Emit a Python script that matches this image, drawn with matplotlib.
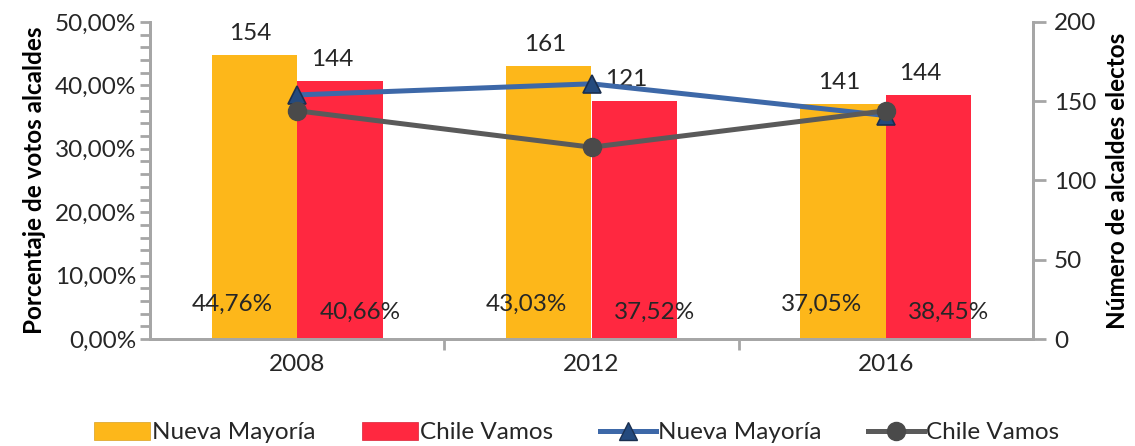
import numpy as np
import matplotlib
matplotlib.use("Agg")
import matplotlib.pyplot as plt
from matplotlib.ticker import MultipleLocator, FuncFormatter
from matplotlib.patches import Patch
from matplotlib.lines import Line2D

# datos
years = ["2008", "2012", "2016"]
pct_nm = [44.76, 43.03, 37.05]
pct_cv = [40.66, 37.52, 38.45]
alc_nm = [154, 161, 141]
alc_cv = [144, 121, 144]
top_labels_nm = ["154", "161", "141"]
top_labels_cv = ["144", "121", "144"]

c_yel = "#FDB71A"
c_red = "#FF2840"
c_blue = "#3D68A8"
c_gray = "#5A5A5A"
c_axis = "#A6A6A6"
c_txt = "#262626"
fs = 17.5

plt.rcParams["font.family"] = ["Lato", "DejaVu Sans"]

fig = plt.figure(figsize=(11.35, 4.46), dpi=100)
ax = fig.add_axes([150/1135, 1-339/446, (1033-150)/1135, (339-22)/446])
ax2 = ax.twinx()

x = np.arange(len(years))
w = 0.29
ax.bar(x - w/2, pct_nm, w, color=c_yel, zorder=2)
ax.bar(x + w/2, pct_cv, w, color=c_red, zorder=2)

ax.set_xlim(-0.5, 2.5)
ax.set_ylim(0, 50)
ax.yaxis.set_major_locator(MultipleLocator(10))
ax.yaxis.set_minor_locator(MultipleLocator(2))
ax.yaxis.set_major_formatter(FuncFormatter(lambda v, p: f"{v:.2f}%".replace(".", ",")))
ax.set_xticks(x)
ax.set_xticklabels(years)
ax.set_xticks([0.5, 1.5], minor=True)

ax.spines["top"].set_visible(False)
ax2.spines["top"].set_visible(False)
for s in ["left", "bottom", "right"]:
    for a in (ax, ax2):
        a.spines[s].set_color(c_axis)
        a.spines[s].set_linewidth(2)

ax.tick_params(axis="y", which="major", length=7, width=2, color=c_axis,
               labelsize=fs, labelcolor=c_txt, pad=3)
ax.tick_params(axis="y", which="minor", length=7, width=2, color=c_axis)
ax.tick_params(axis="x", which="major", length=0, labelsize=fs, labelcolor=c_txt, pad=11)
ax.tick_params(axis="x", which="minor", length=8, width=2, color=c_axis)

ax.set_ylabel("Porcentaje de votos alcaldes", fontsize=fs, fontweight="bold",
              color="black", labelpad=6)

# lineas (eje derecho)
ax2.plot(x, alc_nm, color=c_blue, lw=3.6, marker="^", ms=13,
         markerfacecolor="#244A7E", markeredgecolor="#1B2F4F", mew=1.2, zorder=4)
ax2.plot(x, alc_cv, color=c_gray, lw=3.6, marker="o", ms=13,
         markerfacecolor="#4A4A4A", markeredgecolor="#4A4A4A", zorder=5)
ax2.set_ylim(0, 200)
ax2.yaxis.set_major_locator(MultipleLocator(50))
ax2.tick_params(axis="y", length=9, width=2, color=c_axis, labelsize=fs,
                labelcolor=c_txt, pad=6)
ax2.set_ylabel("Número de alcaldes electos", fontsize=fs, fontweight="bold",
               color="black", labelpad=7)

# etiquetas
for i in range(len(years)):
    ax.annotate(top_labels_nm[i], (x[i] - w/2, pct_nm[i]), xytext=(-4, 22),
                textcoords="offset pixels", ha="center", va="center",
                fontsize=fs, color=c_txt)
    ax.annotate(top_labels_cv[i], (x[i] + w/2, pct_cv[i]), xytext=(-8, 22),
                textcoords="offset pixels", ha="center", va="center",
                fontsize=fs, color=c_txt)
    ax.annotate(f"{pct_nm[i]:.2f}%".replace(".", ","), (x[i] - w/2, 0),
                xytext=(-22, 35), textcoords="offset pixels", ha="center",
                va="center", fontsize=fs, color=c_txt, zorder=6)
    ax.annotate(f"{pct_cv[i]:.2f}%".replace(".", ","), (x[i] + w/2, 0),
                xytext=(20, 27), textcoords="offset pixels", ha="center",
                va="center", fontsize=fs, color=c_txt, zorder=6)

handles = [
    Patch(facecolor=c_yel, edgecolor="#D9A020", lw=0.5),
    Patch(facecolor=c_red, edgecolor="#D92035", lw=0.5),
    Line2D([], [], color=c_blue, lw=3.6, marker="^", ms=13,
           markerfacecolor="#244A7E", markeredgecolor="#1B2F4F"),
    Line2D([], [], color=c_gray, lw=3.6, marker="o", ms=13,
           markerfacecolor="#4A4A4A", markeredgecolor="#4A4A4A"),
]
labels = ["Nueva Mayoría", "Chile Vamos", "Nueva Mayoría", "Chile Vamos"]
fig.legend(handles, labels, loc="center", bbox_to_anchor=(0.508, 0.03), ncol=4,
           frameon=False, fontsize=fs, handlelength=2.3, handleheight=0.75,
           handletextpad=0.1, columnspacing=1.9, labelcolor=c_txt)

fig.savefig("out.png", dpi=100)
